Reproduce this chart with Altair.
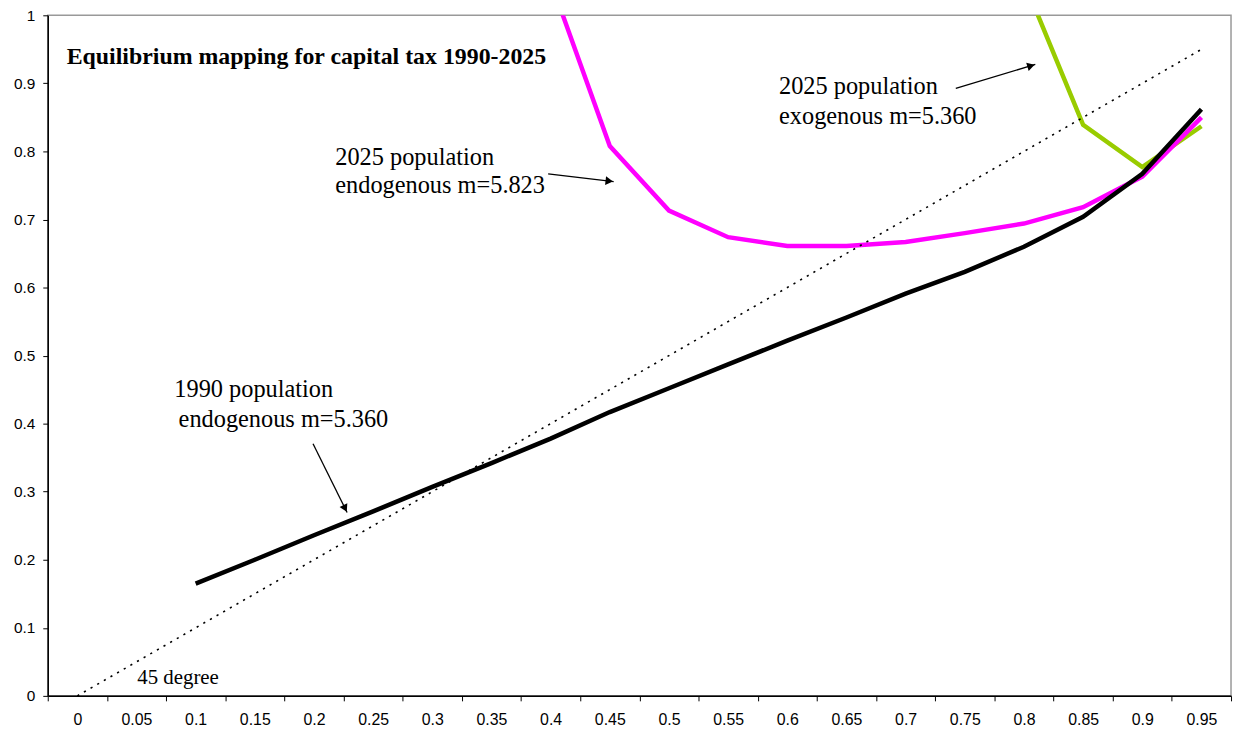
import math
import altair as alt
import pandas as pd

# ---------------- data ----------------
x_cats = [0.0, 0.05, 0.1, 0.15, 0.2, 0.25, 0.3, 0.35, 0.4, 0.45,
          0.5, 0.55, 0.6, 0.65, 0.7, 0.75, 0.8, 0.85, 0.9, 0.95]

pop1990_endog = [None, None, 0.165, 0.200, 0.236, 0.271, 0.307, 0.342, 0.378, 0.417,
                 0.452, 0.487, 0.522, 0.556, 0.591, 0.623, 0.660, 0.704, 0.767, 0.862]
pop2025_endog = [None, None, None, None, None, None, None, None, 1.05, 0.808,
                 0.713, 0.674, 0.661, 0.661, 0.667, 0.680, 0.694, 0.718, 0.763, 0.850]
pop2025_exog = [None, None, None, None, None, None, None, None, None, None,
                None, None, None, None, None, None, 1.05, 0.839, 0.777, 0.837]

diag_x = [0.0, 0.95]
diag_y = [0.0, 0.95]

y_ticks = [0, 0.1, 0.2, 0.3, 0.4, 0.5, 0.6, 0.7, 0.8, 0.9, 1.0]
x_bounds = [round(-0.025 + 0.05 * i, 3) for i in range(21)]

series_names = ["2025 exogenous", "2025 endogenous", "1990 endogenous"]
series_colors = ["#99CC00", "#FF00FF", "#000000"]

title_text = ["Equilibrium mapping for capital tax 1990-2025"]
title_x = [-0.009]
title_y = [0.928]

ann_text = ["2025 population", "exogenous m=5.360",
            "2025 population", "endogenous m=5.823",
            "1990 population", "endogenous m=5.360"]
ann_x = [0.5930, 0.5930, 0.2180, 0.2180, 0.0820, 0.0856]
ann_y = [0.8847, 0.8407, 0.7805, 0.7382, 0.4391, 0.3953]

deg_text = ["45 degree"]
deg_x = [0.0506]
deg_y = [0.0175]

arrow_x1 = [0.7424, 0.3979, 0.1992]
arrow_y1 = [0.8928, 0.7669, 0.3705]
arrow_x2 = [0.8096, 0.4533, 0.2280]
arrow_y2 = [0.9278, 0.7557, 0.2694]

# ---------------- layout ----------------
W, H = 1191, 685
X_MIN, X_MAX = -0.025, 0.975
CAT_W = W / 20.0

rows = []
for name, vals in zip(series_names, [pop2025_exog, pop2025_endog, pop1990_endog]):
    for x, v in zip(x_cats, vals):
        if v is not None:
            rows.append({"series": name, "x": x, "y": v})
lines_df = pd.DataFrame(rows)
diag_df = pd.DataFrame({"x": diag_x, "y": diag_y})

arrows_df = pd.DataFrame({"x1": arrow_x1, "y1": arrow_y1, "x2": arrow_x2, "y2": arrow_y2})
heads = []
for x1, y1, x2, y2 in zip(arrow_x1, arrow_y1, arrow_x2, arrow_y2):
    dxs = (x2 - x1) / (X_MAX - X_MIN) * W
    dys = -(y2 - y1) * H
    L = math.hypot(dxs, dys)
    ux, uy = dxs / L, dys / L
    ang = math.degrees(math.atan2(dys, dxs)) % 360
    back = 4.5
    heads.append({"x": x2 - back * ux / W * (X_MAX - X_MIN),
                  "y": y2 + back * uy / H,
                  "angle": ang})
heads_df = pd.DataFrame(heads)

xs = alt.Scale(domain=[X_MIN, X_MAX], nice=False, zero=False)
ys = alt.Scale(domain=[0, 1], nice=False, zero=False)

x_axis = alt.Axis(
    values=x_bounds, title=None, grid=False,
    labelExpr="datum.value > 0.96 ? '' : toString(round((datum.value + 0.025) * 100) / 100)",
    labelOffset=CAT_W / 2, labelOverlap=False, labelFlush=False,
    labelFont="Liberation Sans", labelFontSize=16, labelColor="#000000",
    labelPadding=11, tickSize=5, tickColor="#000000", tickWidth=1,
    domainColor="#000000", domainWidth=1.5,
)
y_axis = alt.Axis(
    values=y_ticks, title=None, grid=False, format=".1~f",
    labelFont="Liberation Sans", labelFontSize=15.5, labelColor="#000000",
    labelPadding=8, tickSize=5, tickColor="#000000", tickWidth=1,
    domainColor="#000000", domainWidth=1.5, labelFlush=False,
)


def X(field):
    return alt.X(field, type="quantitative", scale=xs, axis=x_axis)


def Y(field):
    return alt.Y(field, type="quantitative", scale=ys, axis=y_axis)


lines = alt.Chart(lines_df).mark_line(strokeWidth=4.5, clip=True, strokeJoin="miter").encode(
    x=X("x"), y=Y("y"),
    color=alt.Color("series:N", scale=alt.Scale(domain=series_names, range=series_colors), legend=None),
    order=alt.Order("x:Q"),
    detail="series:N",
)

diag = alt.Chart(diag_df).mark_line(color="#000000", strokeWidth=1.6, strokeDash=[2.2, 5.5]).encode(
    x=X("x"), y=Y("y")
)

arrow_lines = alt.Chart(arrows_df).mark_rule(color="#000000", strokeWidth=1.3).encode(
    x=X("x1"), y=Y("y1"), x2="x2", y2="y2"
)
arrow_heads = alt.Chart(heads_df).mark_point(
    shape="triangle-right", filled=True, color="#000000", size=75, opacity=1
).encode(x=X("x"), y=Y("y"), angle=alt.Angle("angle:Q", scale=None))

title_df = pd.DataFrame({"x": title_x, "y": title_y, "t": title_text})
ann_df = pd.DataFrame({"x": ann_x, "y": ann_y, "t": ann_text})
deg_df = pd.DataFrame({"x": deg_x, "y": deg_y, "t": deg_text})

title_mark = alt.Chart(title_df).mark_text(
    align="left", baseline="alphabetic", font="Liberation Serif", fontSize=24,
    fontWeight="bold", color="#000000"
).encode(x=X("x"), y=Y("y"), text="t:N")

ann_mark = alt.Chart(ann_df).mark_text(
    align="left", baseline="alphabetic", font="Liberation Serif", fontSize=24.5, color="#000000"
).encode(x=X("x"), y=Y("y"), text="t:N")

deg_mark = alt.Chart(deg_df).mark_text(
    align="left", baseline="alphabetic", font="Liberation Serif", fontSize=21, color="#000000"
).encode(x=X("x"), y=Y("y"), text="t:N")

chart = alt.layer(
    lines, diag, arrow_lines, arrow_heads, title_mark, ann_mark, deg_mark
).properties(
    width=W, height=H,
    autosize=alt.AutoSizeParams(type="none"),
    padding={"left": 40, "top": 5, "right": 3, "bottom": 32},
    background="#ffffff",
).configure_view(
    stroke="#999999", strokeWidth=1.5
)

chart.save("out.html", embed_options={"renderer": "svg", "actions": False})
